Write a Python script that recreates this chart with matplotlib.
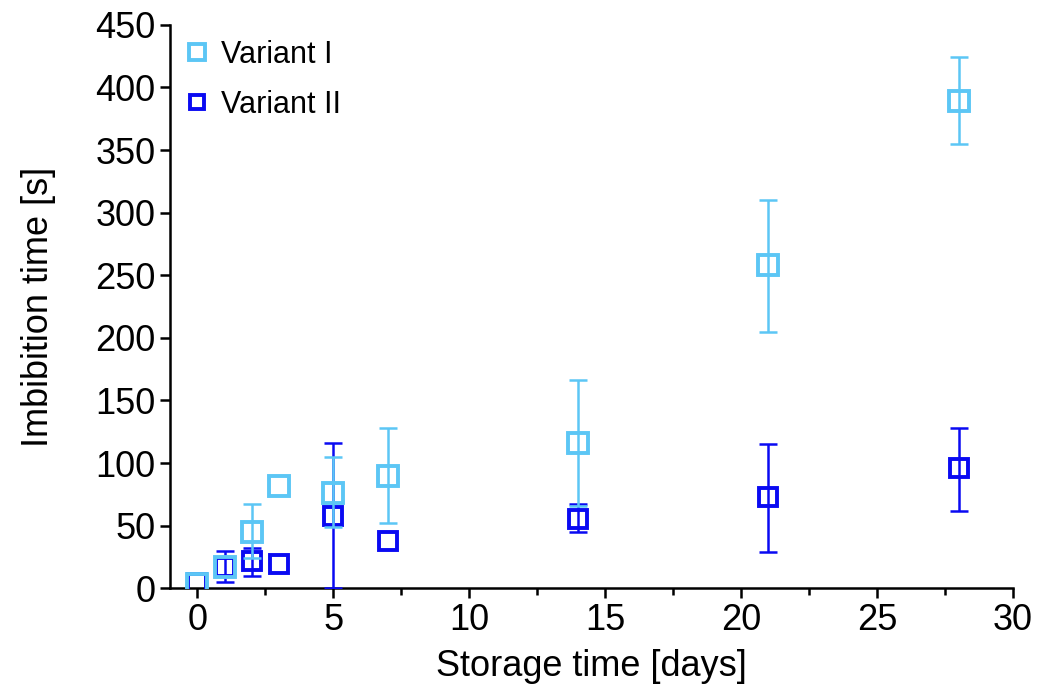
import matplotlib.pyplot as plt
import numpy as np

plt.rcParams['font.family'] = ['Liberation Sans', 'DejaVu Sans']

days = [0, 1, 2, 3, 5, 7, 14, 21, 28]

v1_mean = [3, 17, 45, 82, 76, 90, 116, 258, 389]
v1_low = [0, 0, 21, 0, 27, 38, 50, 53, 34]
v1_high = [0, 0, 22, 0, 29, 38, 50, 52, 35]

v2_mean = [4, 17, 22, 19, 58, 38, 55, 73, 96]
v2_low = [0, 12, 12, 0, 58, 0, 10, 44, 34]
v2_high = [0, 13, 10, 0, 58, 0, 12, 42, 32]

light = '#5CC6F5'
dark = '#0A0AF2'


def draw(ax, x, y, lo, hi, color, ms, label, z):
    x = np.array(x)
    y = np.array(y)
    lo = np.array(lo)
    hi = np.array(hi)
    m = (lo + hi) > 0
    ax.errorbar(x[m], y[m], yerr=[lo[m], hi[m]], fmt='none', ecolor=color,
                elinewidth=1.8, capsize=6.5, capthick=1.8, zorder=z)
    ax.plot(x, y, 's', mfc='none', mec=color, ms=ms, mew=2.8,
            label=label, zorder=z + 0.5)


def main():
    fig = plt.figure(figsize=(10.38, 6.92), dpi=100)
    ax = fig.add_axes([0.164, 0.150, 0.812, 0.814])

    draw(ax, days, v2_mean, v2_low, v2_high, dark, 12.5, 'Variant II', 3)
    draw(ax, days, v1_mean, v1_low, v1_high, light, 14, 'Variant I', 4)

    ax.set_xlim(-1, 30)
    ax.set_ylim(0, 450)
    ax.set_xticks(np.arange(0, 31, 5))
    ax.set_xticks(np.arange(2.5, 30, 5), minor=True)
    ax.set_yticks(np.arange(0, 451, 50))
    ax.spines['top'].set_visible(False)
    ax.spines['right'].set_visible(False)
    for s in ['left', 'bottom']:
        ax.spines[s].set_linewidth(1.8)
    ax.tick_params(which='major', length=7, width=1.8, labelsize=26)
    ax.tick_params(which='minor', length=5, width=1.8)
    ax.set_xlabel('Storage time [days]', fontsize=26, labelpad=8)
    ax.set_ylabel('Imbibition time [s]', fontsize=26, labelpad=28)

    h, l = ax.get_legend_handles_labels()
    ax.legend(h[::-1], l[::-1], loc='upper left', frameon=False, fontsize=22,
              handletextpad=0.2, borderaxespad=0.0, markerscale=0.8,
              handlelength=1.2, labelspacing=0.65,
              bbox_to_anchor=(-0.005, 0.995))

    fig.savefig('out.png')


if __name__ == '__main__':
    main()
